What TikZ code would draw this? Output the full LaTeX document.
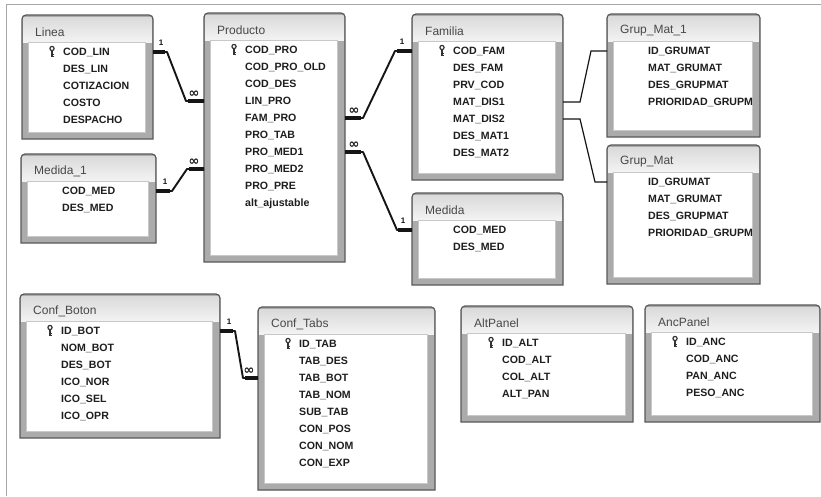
\documentclass[tikz,border=0pt]{standalone}
\usepackage{fontspec}
\setmainfont{Liberation Sans}
\newfontfamily\symfont{DejaVu Sans}
\usetikzlibrary{calc}

\definecolor{edgegray}{HTML}{595959}
\definecolor{framegray}{HTML}{ABABAB}
\definecolor{innergray}{HTML}{C8C8C8}
\definecolor{hdtop}{HTML}{DADADA}
\definecolor{hdbot}{HTML}{F3F3F3}
\definecolor{titlegray}{HTML}{484848}
\definecolor{fieldblack}{HTML}{1E1E1E}
\definecolor{relblack}{HTML}{151515}
\definecolor{pagegray}{HTML}{A8A8A8}
\definecolor{keygray}{HTML}{333333}

\tikzset{
  tblholder/.style={draw=none, inner sep=0pt, outer sep=0pt, anchor=north west},
  tbltitle/.style={anchor=west, inner sep=0pt, font=\fontsize{12}{14}\selectfont, text=titlegray},
  field/.style={anchor=west, inner sep=0pt, text height=8pt, text depth=2pt,
    font=\fontsize{10.6}{12}\selectfont\bfseries, text=fieldblack},
  rel/.style={line width=1.9pt, draw=relblack, line join=round},
  relend/.style={line width=3.2pt, draw=relblack},
  weakrel/.style={line width=1.2pt, draw=relblack},
  cardone/.style={inner sep=0pt, font=\fontsize{8}{9}\selectfont\bfseries, text=relblack},
  cardmany/.style={inner sep=0pt, font=\symfont\fontsize{13}{13}\selectfont\bfseries, text=relblack},
}

% key symbol in front of a primary key field
\newcommand\keyicon[2]{%
  \draw[keygray, line width=1.2pt] (#1,#2-3.5) circle[radius=2.1];
  \draw[keygray, line width=1.3pt] (#1,#2-1.3) -- (#1,#2+5)
    (#1,#2+2.5) -- (#1+2,#2+2.5) (#1,#2+4.6) -- (#1+2,#2+4.6);
}

% table box: id, x1, y1, x2, y2, title, key flag (1/0), fields
\newcommand\tablebox[8]{%
  \pgfmathsetmacro\tbw{#4-#2}%
  \pgfmathsetmacro\tbh{#5-#3}%
  \node[tblholder, minimum width=\tbw pt, minimum height=\tbh pt] (#1) at (#2,#3) {};
  \fill[framegray] (#2,#5) -- (#2,#3+4) arc[start angle=180,end angle=270,radius=4]
    -- (#4-4,#3) arc[start angle=270,end angle=360,radius=4] -- (#4,#5) -- cycle;
  \shade[top color=hdtop, bottom color=hdbot] (#2+1,#3+2) rectangle (#4-1,#3+27);
  \fill[white] (#2+7,#3+28) rectangle (#4-8,#5-7);
  \draw[innergray, line width=0.8pt] (#2+6.5,#3+27.5) rectangle (#4-7.5,#5-6.5);
  \draw[edgegray, line width=1.2pt] (#2,#5) -- (#2,#3+4) arc[start angle=180,end angle=270,radius=4]
    -- (#4-4,#3) arc[start angle=270,end angle=360,radius=4] -- (#4,#5) -- cycle;
  \node[tbltitle] (#1-title) at (#2+13,#3+17) {#6};
  \begin{scope}
    \clip (#2+7,#3+28) rectangle (#4-8,#5-7);
    \foreach \f [count=\i] in {#8} {
      \node[field] (#1-\i) at (#2+41,#3+20+17*\i) {\f};
    }
    \ifnum#7=1 \keyicon{#2+30}{#3+37}\fi
  \end{scope}
}

\begin{document}
\begin{tikzpicture}[x=1pt, y=-1pt]
\useasboundingbox (0,0) rectangle (821,496);
\fill[white] (0,0) rectangle (821,496);
\draw[pagegray, line width=1pt] (821,4) -- (6,4) -- (6,496);

\tablebox{linea}{22}{15}{153}{139}{Linea}{1}%
  {COD\_LIN, DES\_LIN, COTIZACION, COSTO, DESPACHO}
\tablebox{producto}{204}{13}{345}{262}{Producto}{1}%
  {COD\_PRO, COD\_PRO\_OLD, COD\_DES, LIN\_PRO, FAM\_PRO, PRO\_TAB, PRO\_MED1, PRO\_MED2, PRO\_PRE, alt\_ajustable}
\tablebox{familia}{412}{14}{563}{180}{Familia}{1}%
  {COD\_FAM, DES\_FAM, PRV\_COD, MAT\_DIS1, MAT\_DIS2, DES\_MAT1, DES\_MAT2}
\tablebox{grupmatone}{607}{14}{760}{137}{Grup\_Mat\_1}{0}%
  {ID\_GRUMAT, MAT\_GRUMAT, DES\_GRUPMAT, PRIORIDAD\_GRUPMAT}
\tablebox{grupmat}{607}{145}{760}{284}{Grup\_Mat}{0}%
  {ID\_GRUMAT, MAT\_GRUMAT, DES\_GRUPMAT, PRIORIDAD\_GRUPMAT}
\tablebox{medidaone}{21}{154}{156}{243}{Medida\_1}{0}%
  {COD\_MED, DES\_MED}
\tablebox{medida}{412}{193}{563}{285}{Medida}{0}%
  {COD\_MED, DES\_MED}
\tablebox{confboton}{20}{294}{220}{438}{Conf\_Boton}{1}%
  {ID\_BOT, NOM\_BOT, DES\_BOT, ICO\_NOR, ICO\_SEL, ICO\_OPR}
\tablebox{conftabs}{258}{307}{435}{490}{Conf\_Tabs}{1}%
  {ID\_TAB, TAB\_DES, TAB\_BOT, TAB\_NOM, SUB\_TAB, CON\_POS, CON\_NOM, CON\_EXP}
\tablebox{altpanel}{461}{306}{633}{422}{AltPanel}{1}%
  {ID\_ALT, COD\_ALT, COL\_ALT, ALT\_PAN}
\tablebox{ancpanel}{645}{305}{820}{422}{AncPanel}{1}%
  {ID\_ANC, COD\_ANC, PAN\_ANC, PESO\_ANC}

% Linea.COD_LIN 1 -- many Producto.LIN_PRO
\coordinate (r1a) at (linea.east |- linea-1);
\coordinate (r1b) at (producto.west |- producto-4);
\draw[rel] (r1a) -- ++(14,0) -- ($(r1b)+(-18,0)$) -- (r1b);
\draw[relend] (r1a) -- ++(12,0);
\draw[relend] (r1b) -- ++(-16,0);
\node[cardone] (r1one) at ($(r1a)+(8,-9)$) {1};
\node[cardmany] (r1many) at ($(r1b)+(-10,-7)$) {∞};

% Medida_1.COD_MED 1 -- many Producto.PRO_MED2
\coordinate (r2a) at (medidaone.east |- medidaone-1);
\coordinate (r2b) at (producto.west |- producto-8);
\draw[rel] (r2a) -- ++(16,0) -- ($(r2b)+(-17,0)$) -- (r2b);
\draw[relend] (r2a) -- ++(14,0);
\draw[relend] (r2b) -- ++(-15,0);
\node[cardone] (r2one) at ($(r2a)+(9,-9)$) {1};
\node[cardmany] (r2many) at ($(r2b)+(-10,-7)$) {∞};

% Producto.FAM_PRO many -- 1 Familia.COD_FAM
\coordinate (r3a) at (producto.east |- producto-5);
\coordinate (r3b) at (familia.west |- familia-1);
\draw[rel] (r3a) -- ++(18,0) -- ($(r3b)+(-17,0)$) -- (r3b);
\draw[relend] (r3a) -- ++(16,0);
\draw[relend] (r3b) -- ++(-15,0);
\node[cardmany] (r3many) at ($(r3a)+(9,-7)$) {∞};
\node[cardone] (r3one) at ($(r3b)+(-10,-9)$) {1};

% Producto.PRO_MED1 many -- 1 Medida.COD_MED
\coordinate (r4a) at (producto.east |- producto-7);
\coordinate (r4b) at (medida.west |- medida-1);
\draw[rel] (r4a) -- ++(18,0) -- ($(r4b)+(-15,0)$) -- (r4b);
\draw[relend] (r4a) -- ++(16,0);
\draw[relend] (r4b) -- ++(-14,0);
\node[cardmany] (r4many) at ($(r4a)+(9,-7)$) {∞};
\node[cardone] (r4one) at ($(r4b)+(-9,-9)$) {1};

% Familia.MAT_DIS1 -- Grup_Mat_1.ID_GRUMAT
\coordinate (r5a) at (familia.east |- familia-4);
\coordinate (r5b) at (grupmatone.west |- grupmatone-1);
\draw[weakrel] (r5a) -- ++(17,0) -- ($(r5b)+(-16,0)$) -- (r5b);

% Familia.MAT_DIS2 -- Grup_Mat.ID_GRUMAT
\coordinate (r6a) at (familia.east |- familia-5);
\coordinate (r6b) at (grupmat.west |- grupmat-1);
\draw[weakrel] (r6a) -- ++(17,0) -- ($(r6b)+(-12,0)$) -- (r6b);

% Conf_Boton.ID_BOT 1 -- many Conf_Tabs.TAB_BOT
\coordinate (r7a) at (confboton.east |- confboton-1);
\coordinate (r7b) at (conftabs.west |- conftabs-3);
\draw[rel] (r7a) -- ++(15,0) -- ($(r7b)+(-15,0)$) -- (r7b);
\draw[relend] (r7a) -- ++(13,0);
\draw[relend] (r7b) -- ++(-13,0);
\node[cardone] (r7one) at ($(r7a)+(9,-9)$) {1};
\node[cardmany] (r7many) at ($(r7b)+(-9,-7)$) {∞};
\end{tikzpicture}
\end{document}
